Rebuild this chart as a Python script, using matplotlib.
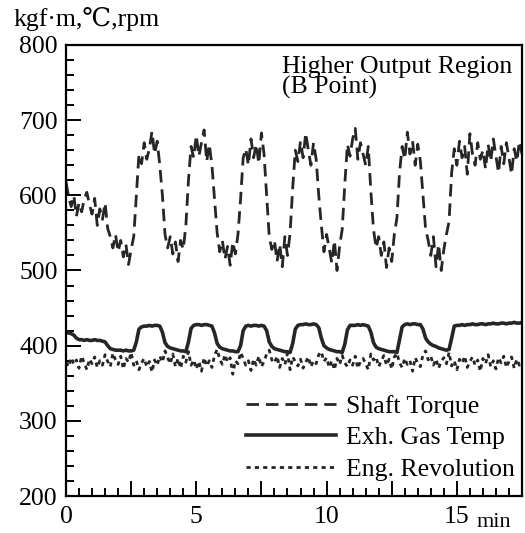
import numpy as np
import matplotlib
matplotlib.use("Agg")
import matplotlib.pyplot as plt
from matplotlib.ticker import MultipleLocator, FuncFormatter

plt.rcParams['font.family'] = ['Liberation Serif', 'DejaVu Serif', 'Noto Sans CJK JP']

# sampling every 0.1 min, 0 .. 17.5 min
time_min = np.round(np.arange(176) * 0.1, 1)

shaft_torque = [
    618, 598, 585, 600, 572, 590, 578, 595, 604, 588,
    575, 596, 560, 582, 568, 590, 556, 545, 530, 548,
    525, 540, 518, 535, 508, 528, 545, 600, 655, 642,
    670, 648, 662, 685, 655, 672, 640, 600, 548, 530,
    545, 522, 538, 512, 540, 528, 560, 620, 665, 650,
    680, 652, 670, 687, 645, 668, 640, 595, 550, 525,
    540, 515, 532, 507, 538, 522, 548, 595, 650, 662,
    640, 675, 650, 668, 642, 683, 655, 600, 545, 528,
    540, 512, 535, 505, 545, 520, 550, 610, 660, 645,
    672, 650, 683, 660, 640, 670, 648, 600, 560, 525,
    548, 530, 510, 540, 500, 532, 555, 615, 668, 652,
    675, 689, 648, 670, 655, 640, 665, 605, 555, 530,
    545, 520, 538, 504, 530, 512, 548, 570, 630, 665,
    648, 684, 655, 672, 640, 668, 645, 600, 555, 540,
    520, 545, 505, 535, 500, 528, 548, 565, 630, 662,
    640, 672, 650, 665, 628, 682, 655, 640, 670, 648,
    660, 635, 668, 645, 675, 652, 630, 665, 642, 670,
    650, 628, 662, 645, 672, 655,
]

exh_gas_temp = [
    417, 417, 416, 414, 410, 408, 408, 407, 408, 407,
    407, 408, 407, 407, 406, 405, 400, 396, 395, 394,
    394, 394, 393, 394, 393, 393, 394, 405, 422, 425,
    426, 426, 427, 426, 427, 427, 426, 418, 404, 399,
    397, 396, 395, 394, 393, 393, 392, 405, 423, 427,
    428, 428, 427, 428, 428, 427, 426, 417, 403, 398,
    396, 395, 394, 393, 393, 392, 392, 400, 420, 426,
    427, 426, 427, 427, 426, 427, 426, 420, 405, 399,
    396, 395, 394, 393, 392, 392, 391, 403, 422, 427,
    428, 428, 429, 428, 428, 429, 428, 424, 410, 400,
    397, 395, 394, 393, 392, 392, 391, 402, 421, 427,
    427, 427, 428, 427, 428, 427, 426, 418, 404, 398,
    396, 395, 394, 393, 392, 392, 392, 391, 408, 425,
    428, 429, 428, 429, 429, 428, 428, 422, 410, 405,
    402, 400, 399, 397, 396, 395, 394, 395, 410, 426,
    427, 427, 428, 427, 428, 428, 429, 428, 428, 429,
    429, 428, 429, 429, 430, 429, 429, 430, 430, 429,
    430, 430, 431, 430, 430, 431,
]

eng_revolution = [
    378, 372, 384, 375, 381, 370, 386, 377, 368, 382,
    376, 385, 371, 380, 374, 388, 379, 372, 390, 381,
    375, 386, 369, 383, 378, 391, 374, 380, 368, 377,
    383, 372, 379, 365, 381, 374, 386, 378, 393, 384,
    376, 389, 372, 383, 370, 386, 378, 392, 374, 381,
    369, 379, 366, 384, 373, 380, 371, 387, 395, 382,
    375, 388, 378, 384, 362, 380, 376, 391, 383, 374,
    380, 367, 382, 374, 386, 372, 379, 389, 394, 381,
    377, 386, 371, 383, 375, 390, 368, 385, 379, 373,
    382, 370, 378, 385, 372, 380, 376, 388, 392, 379,
    384, 371, 380, 368, 383, 375, 387, 377, 372, 381,
    374, 386, 370, 379, 383, 376, 368, 389, 381, 385,
    372, 380, 387, 374, 382, 369, 385, 390, 377, 371,
    383, 375, 380, 366, 384, 377, 372, 388, 393, 381,
    386, 374, 382, 370, 379, 384, 376, 391, 373, 380,
    368, 382, 377, 386, 371, 379, 385, 374, 381, 366,
    383, 376, 388, 372, 380, 369, 384, 377, 386, 371,
    379, 385, 370, 382, 374, 378,
]

x_labels = {0: "0", 5: "5", 10: "10", 15: "15"}
ink = "#262626"

fig = plt.figure(figsize=(5.25, 5.33), dpi=100)
ax = fig.add_axes([0.1257, 0.0694, 0.8686, 0.8462])

ax.plot(time_min, shaft_torque, color=ink, lw=2.0, dashes=(4.5, 2.5),
        label="Shaft Torque")
ax.plot(time_min, exh_gas_temp, color=ink, lw=2.6, label="Exh. Gas Temp")
ax.plot(time_min, eng_revolution, color=ink, lw=2.0, dashes=(1.5, 1.5),
        label="Eng. Revolution")

ax.set_xlim(0, 17.5)
ax.set_ylim(200, 800)
ax.xaxis.set_major_locator(MultipleLocator(2.5))
ax.xaxis.set_minor_locator(MultipleLocator(0.5))
ax.yaxis.set_major_locator(MultipleLocator(100))
ax.yaxis.set_minor_locator(MultipleLocator(20))
ax.xaxis.set_major_formatter(FuncFormatter(
    lambda v, p: x_labels.get(int(round(v)), "") if abs(v - round(v)) < 1e-6 else ""))

ax.tick_params(which="both", direction="in", width=1.4, colors="black",
               labelsize=18.5)
ax.tick_params(which="major", length=10.5)
ax.tick_params(which="minor", length=5.5)
ax.tick_params(axis="x", pad=7)
ax.tick_params(axis="y", pad=6)
for s in ax.spines.values():
    s.set_linewidth(1.6)

fig.text(477 / 525, 1 - 527 / 533, "min", fontsize=16, va="baseline", ha="left")
fig.text(13 / 525, 1 - 26 / 533, "kgf·m,℃,rpm", fontsize=18.5, va="baseline",
         ha="left")

ax.text(0.474, 0.938, "Higher Output Region", transform=ax.transAxes,
        fontsize=18.5, va="baseline", ha="left")
ax.text(0.474, 0.892, "(B Point)", transform=ax.transAxes,
        fontsize=18.5, va="baseline", ha="left")

ax.legend(loc="lower right", bbox_to_anchor=(1.018, 0.0), frameon=False,
          fontsize=18.5, handlelength=3.5, handletextpad=0.4, labelspacing=0.33,
          borderaxespad=0.2)

fig.savefig("out.png", dpi=100)
